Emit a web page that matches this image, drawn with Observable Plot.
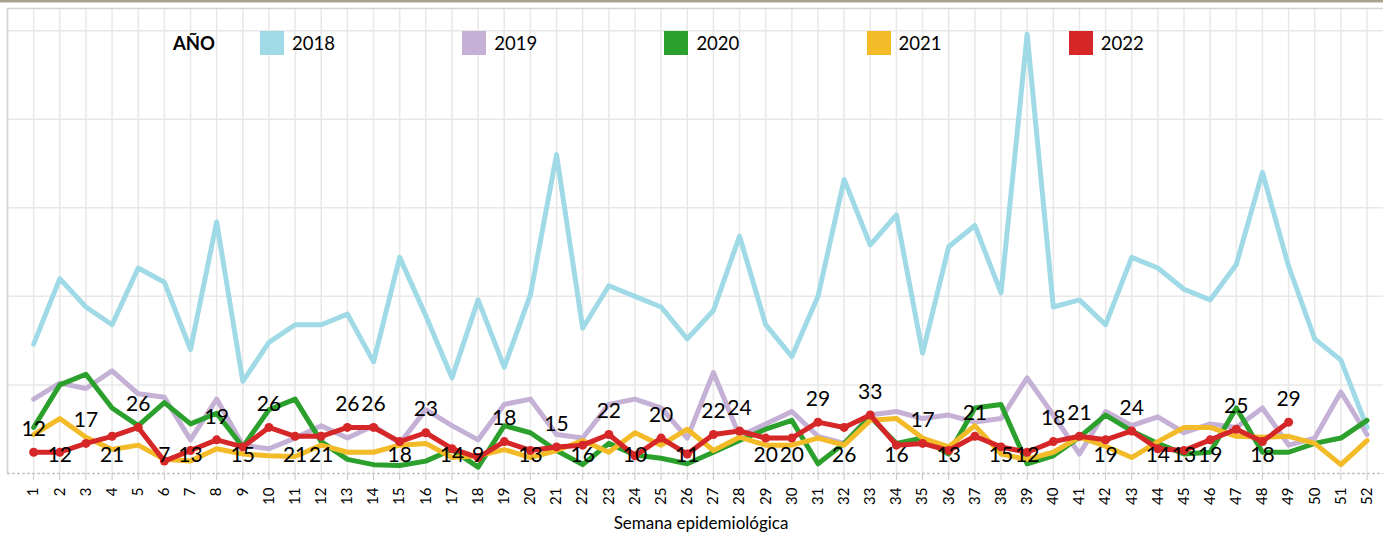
<!DOCTYPE html>
<html>
<head>
<meta charset="utf-8">
<script src="https://cdn.jsdelivr.net/npm/d3@7"></script>
<script src="https://cdn.jsdelivr.net/npm/@observablehq/plot@0.6"></script>
<style>
  body { margin: 0; background: #fff; }
  #wrap { position: relative; width: 1383px; height: 533px; overflow: hidden; background: #fff; font-family: Lato, "Open Sans", sans-serif; }
  #topline { position: absolute; left: 0; top: 0; width: 1383px; height: 2px; background: #aaa28c; border-bottom: 1px solid #d9d4c7; }
  #legend { position: absolute; left: 0; top: 31px; height: 24px; width: 1383px; }
  .lg-title { position: absolute; top: 0; height: 24px; line-height: 24px; font-size: 18.5px; font-weight: bold; color: #000; }
  .lg-sw { position: absolute; top: 0; width: 24px; height: 24px; }
  .lg-tx { position: absolute; top: 0; height: 24px; line-height: 24px; font-size: 18.5px; color: #000; }
  #xtitle { position: absolute; left: 0; width: 1402px; top: 513px; height: 19px; line-height: 19px; font-size: 17px; text-align: center; color: #000; }
  svg { position: absolute; left: 0; top: 0; }
</style>
</head>
<body>
<div id="wrap">
  <div id="topline"></div>
  <div id="chart"></div>
  <div id="legend"></div>
  <div id="xtitle"></div>
</div>
<script>
// ---- data ----
const weeks = [1,2,3,4,5,6,7,8,9,10,11,12,13,14,15,16,17,18,19,20,21,22,23,24,25,26,27,28,29,30,31,32,33,34,35,36,37,38,39,40,41,42,43,44,45,46,47,48,49,50,51,52];
const years = ["2018", "2019", "2020", "2021", "2022"];
const colors = ["#a0dae6", "#c5b1d6", "#2ca02c", "#f2bb27", "#d62728"];
const v2018 = [73,110,94,84,116,108,70,142,52,74,84,84,90,63,122,89,54,98,60,101,180,82,106,100,94,76,92,134,84,66,100,166,129,146,68,128,140,102,248,94,98,84,122,116,104,98,118,170,117,76,64,26];
const v2019 = [42,51,48,58,45,43,19,42,16,14,20,27,20,27,17,36,27,19,39,42,22,20,39,42,37,20,57,21,28,35,21,17,33,35,31,33,29,31,54,33,11,35,27,32,23,28,26,37,16,20,46,22];
const v2020 = [26,50,56,37,27,40,28,34,15,36,42,18,8,5,4.5,7,13.5,3.6,27,23,13,5,17,10.5,8.6,5.5,12,18.6,25,30,5.5,17,32,17,20,11,37,39,5.5,10,20.5,33,24,17,11,12,37,12,12,17,20,30];
const v2021 = [22,31,20.5,13.5,16,8,7,14,11,10,9.6,16,12,12,16,17,9,10,13.5,9,13,18.6,12,23,16,25,13,20.5,16,16,20,16,30,31,20,15,27,11,8,12,20.5,15.4,9,18,26,26,21,20.5,21,17,5,18.6];
const v2022 = [12,12,17,21,26,7,13,19,15,26,21,21,26,26,18,23,14,9,18,13,15,16,22,10,20,11,22,24,20,20,29,26,33,16,17,13,21,15,12,18,21,19,24,14,13,19,25,18,29];
// label side for 2022 data labels: A = above the point, B = bottom row
const labelSide = ["A","B","A","B","A","B","B","A","B","A","B","B","A","A","B","A","B","B","A","B","A","B","A","B","A","B","A","A","B","B","A","B","A","B","A","B","A","B","B","A","A","B","A","B","B","B","A","B","A"];
const gridValues = [50, 100, 150, 200, 250];
const xTitle = "Semana epidemiológica";
const legendTitle = "AÑO";

// ---- build tables ----
const seriesValues = [v2018, v2019, v2020, v2021, v2022];
const rows = [];
years.forEach((yr, i) => {
  seriesValues[i].forEach((v, j) => rows.push({year: yr, week: weeks[j], value: v}));
});
const rows2022 = rows.filter(d => d.year === "2022").map((d, i) => ({...d, side: labelSide[i]}));
const xMax = 52.63;
const yMax = 262.5;
const belowLevel = 10.2;
const gridWeeks = [0, ...weeks];
const labelFont = "Lato, 'Open Sans', sans-serif";

const chart = Plot.plot({
  width: 1383,
  height: 533,
  marginLeft: 7,
  marginRight: 0,
  marginTop: 8,
  marginBottom: 60,
  style: {fontFamily: labelFont, background: "transparent", overflow: "visible"},
  x: {type: "linear", domain: [0, xMax]},
  y: {domain: [0, yMax], axis: null},
  color: {domain: years, range: colors},
  marks: [
    Plot.ruleX(gridWeeks, {stroke: "#e8e8e8", strokeWidth: 1.5}),
    Plot.ruleY(gridValues, {stroke: "#e8e8e8", strokeWidth: 1.5}),
    Plot.ruleY([yMax], {stroke: "#d4d4d4", strokeWidth: 1.5}),
    Plot.ruleX([0], {stroke: "#d4d4d4", strokeWidth: 1.5}),
    Plot.ruleY([0], {stroke: "#c4c4c4", strokeWidth: 1.5, strokeDasharray: "3,2"}),
    Plot.axisX({
      ticks: weeks,
      tickFormat: d => String(d),
      tickSize: 7,
      tickPadding: 7,
      tickRotate: -90,
      fontSize: 15,
      stroke: "#c8c8c8",
      fill: "#000",
      label: null
    }),
    Plot.line(rows, {x: "week", y: "value", z: "year", stroke: "year", strokeWidth: 5, strokeLinejoin: "round", strokeLinecap: "round"}),
    Plot.dot(rows2022, {x: "week", y: "value", r: 4.5, fill: "year"}),
    Plot.text(rows2022.filter(d => d.side === "A"), {
      x: "week",
      y: "value",
      dy: -23,
      text: d => String(d.value),
      fontSize: 21,
      fill: "#000"
    }),
    Plot.text(rows2022.filter(d => d.side === "B"), {
      x: "week",
      y: () => belowLevel,
      text: d => String(d.value),
      fontSize: 21,
      fill: "#000"
    })
  ]
});
document.getElementById("chart").appendChild(chart);
document.getElementById("xtitle").textContent = xTitle;

// ---- legend (HTML overlay inside plot area) ----
const legend = document.getElementById("legend");
const ttl = document.createElement("div");
ttl.className = "lg-title";
ttl.style.left = "173px";
ttl.textContent = legendTitle;
legend.appendChild(ttl);
years.forEach((yr, i) => {
  const sw = document.createElement("div");
  sw.className = "lg-sw";
  sw.style.left = (260 + i * 202.2) + "px";
  sw.style.background = colors[i];
  legend.appendChild(sw);
  const tx = document.createElement("div");
  tx.className = "lg-tx";
  tx.style.left = (292 + i * 202.2) + "px";
  tx.textContent = yr;
  legend.appendChild(tx);
});
</script>
</body>
</html>
